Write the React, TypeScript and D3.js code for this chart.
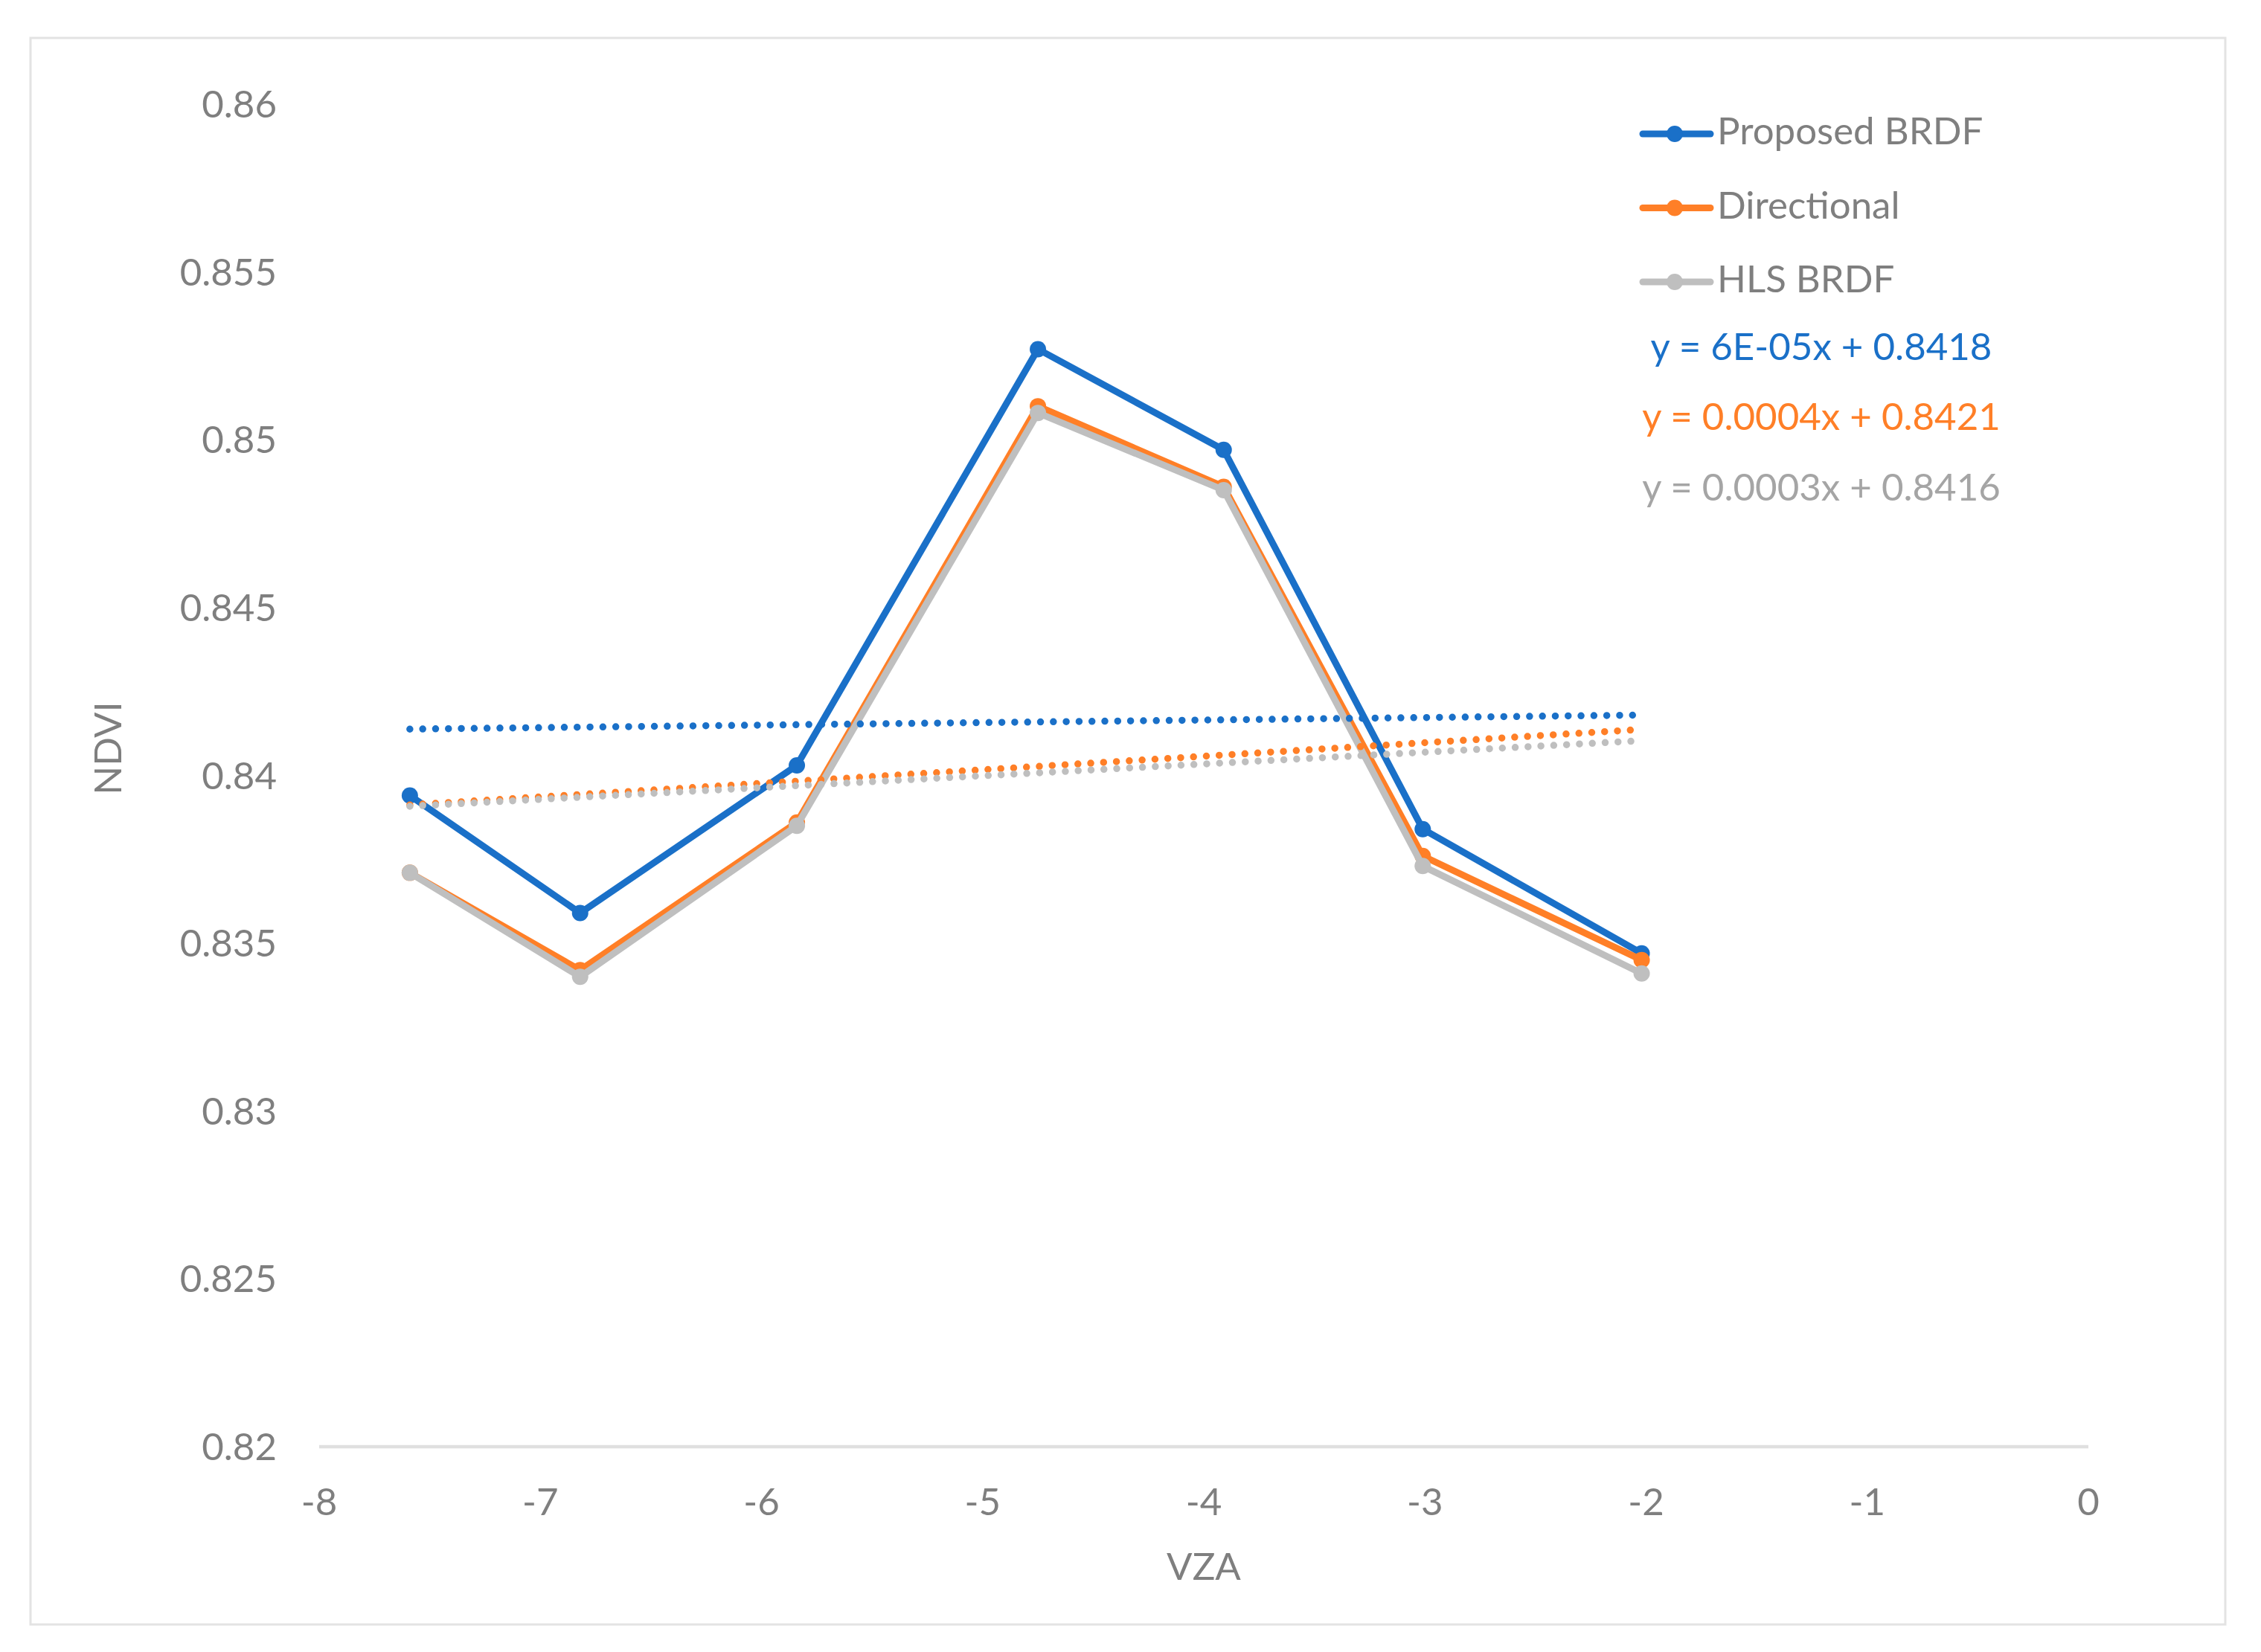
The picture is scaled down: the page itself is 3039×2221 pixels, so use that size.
import * as d3 from 'd3';
import React from 'react';

// VZA (x) values shared by every series
const vza = [-7.59, -6.82, -5.84, -4.75, -3.91, -3.01, -2.02];

const proposedBrdf = [0.8394, 0.8359, 0.8403, 0.8527, 0.8497, 0.8384, 0.8347];
const directional = [0.8371, 0.8342, 0.8386, 0.8510, 0.8486, 0.8376, 0.8345];
const hlsBrdf = [0.8371, 0.8340, 0.8385, 0.8508, 0.8485, 0.8373, 0.8341];

const seriesNames = ["Proposed BRDF", "Directional", "HLS BRDF"];
const seriesColors = ["#1a70c8", "#ff7f27", "#bfbfbf"];
const equationColors = ["#1a70c8", "#ff7f27", "#a5a5a5"];
const equationLabels = [
  "y = 6E-05x + 0.8418",
  "y = 0.0004x + 0.8421",
  "y = 0.0003x + 0.8416",
];

const xTicks = [-8, -7, -6, -5, -4, -3, -2, -1, 0];
const yTicks = [0.82, 0.825, 0.83, 0.835, 0.84, 0.845, 0.85, 0.855, 0.86];

const WIDTH = 3039;
const HEIGHT = 2221;
const FONT = "Lato, 'Open Sans', sans-serif";
const TEXT_GRAY = "#7f7f7f";

// least-squares fit, same as Excel's linear trendline
const linearFit = (xs: number[], ys: number[]) => {
  const mx = d3.mean(xs)!;
  const my = d3.mean(ys)!;
  const sxy = d3.sum(xs, (x, i) => (x - mx) * (ys[i] - my));
  const sxx = d3.sum(xs, x => (x - mx) ** 2);
  const slope = sxy / sxx;
  return { slope, intercept: my - slope * mx };
};

const App: React.FC = () => {
  const xScale = d3.scaleLinear().domain([-8, 0]).range([429, 2807]);
  const yScale = d3.scaleLinear().domain([0.82, 0.86]).range([1945, 140]);

  const allSeries = [proposedBrdf, directional, hlsBrdf];

  const line = d3.line<[number, number]>()
    .x(d => xScale(d[0]))
    .y(d => yScale(d[1]));

  const xMin = d3.min(vza)!;
  const xMax = d3.max(vza)!;

  const legendX = 2208;
  const legendY = [180, 279.5, 379];
  const equationY = [484, 578, 673];

  return (
    <div style={{ position: 'absolute', left: 0, top: 0 }}>
      <svg width={WIDTH} height={HEIGHT} style={{ display: 'block', fontFamily: FONT }}>
        <rect x={0} y={0} width={WIDTH} height={HEIGHT} fill="#ffffff" />
        <rect x={41} y={51} width={2950} height={2133} fill="#ffffff" stroke="#e3e3e3" strokeWidth={3} />

        {/* x axis line */}
        <line x1={xScale(-8)} x2={xScale(0)} y1={yScale(0.82)} y2={yScale(0.82)} stroke="#e0e0e0" strokeWidth={4.5} />

        {/* y tick labels */}
        {yTicks.map(t => (
          <text key={t} x={372} y={yScale(t) + 18} textAnchor="end" fontSize={51} fill={TEXT_GRAY}>
            {String(t)}
          </text>
        ))}

        {/* x tick labels */}
        {xTicks.map(t => (
          <text key={t} x={xScale(t)} y={2037} textAnchor="middle" fontSize={51} fill={TEXT_GRAY}>
            {String(t)}
          </text>
        ))}

        {/* axis titles */}
        <text x={(xScale(-8) + xScale(0)) / 2} y={2124} textAnchor="middle" fontSize={51} fill={TEXT_GRAY}>VZA</text>
        <text transform="translate(163,1006) rotate(-90)" textAnchor="middle" fontSize={51} fill={TEXT_GRAY}>NDVI</text>

        {/* series lines and markers */}
        {allSeries.map((values, si) => {
          const pts = vza.map((x, i) => [x, values[i]] as [number, number]);
          return (
            <g key={seriesNames[si]}>
              <path d={line(pts) ?? ""} fill="none" stroke={seriesColors[si]} strokeWidth={9} strokeLinejoin="round" />
              {pts.map((p, i) => (
                <circle key={i} cx={xScale(p[0])} cy={yScale(p[1])} r={11} fill={seriesColors[si]} />
              ))}
            </g>
          );
        })}

        {/* dotted linear trendlines */}
        {allSeries.map((values, si) => {
          const { slope, intercept } = linearFit(vza, values);
          return (
            <line
              key={`trend-${si}`}
              x1={xScale(xMin)}
              y1={yScale(slope * xMin + intercept)}
              x2={xScale(xMax)}
              y2={yScale(slope * xMax + intercept)}
              stroke={seriesColors[si]}
              strokeWidth={9.5}
              strokeLinecap="round"
              strokeDasharray="0 17.3"
            />
          );
        })}

        {/* legend */}
        {seriesNames.map((name, i) => (
          <g key={name}>
            <line x1={legendX} x2={legendX + 91} y1={legendY[i]} y2={legendY[i]} stroke={seriesColors[i]} strokeWidth={9} strokeLinecap="round" />
            <circle cx={legendX + 43} cy={legendY[i]} r={11} fill={seriesColors[i]} />
            <text x={legendX + 100} y={legendY[i] + 14} fontSize={51} fill={TEXT_GRAY}>{name}</text>
          </g>
        ))}

        {/* trendline equations */}
        {equationLabels.map((eq, i) => (
          <text key={eq} x={2448} y={equationY[i]} textAnchor="middle" fontSize={51} fill={equationColors[i]}>
            {eq}
          </text>
        ))}
      </svg>
    </div>
  );
};

export default App;
